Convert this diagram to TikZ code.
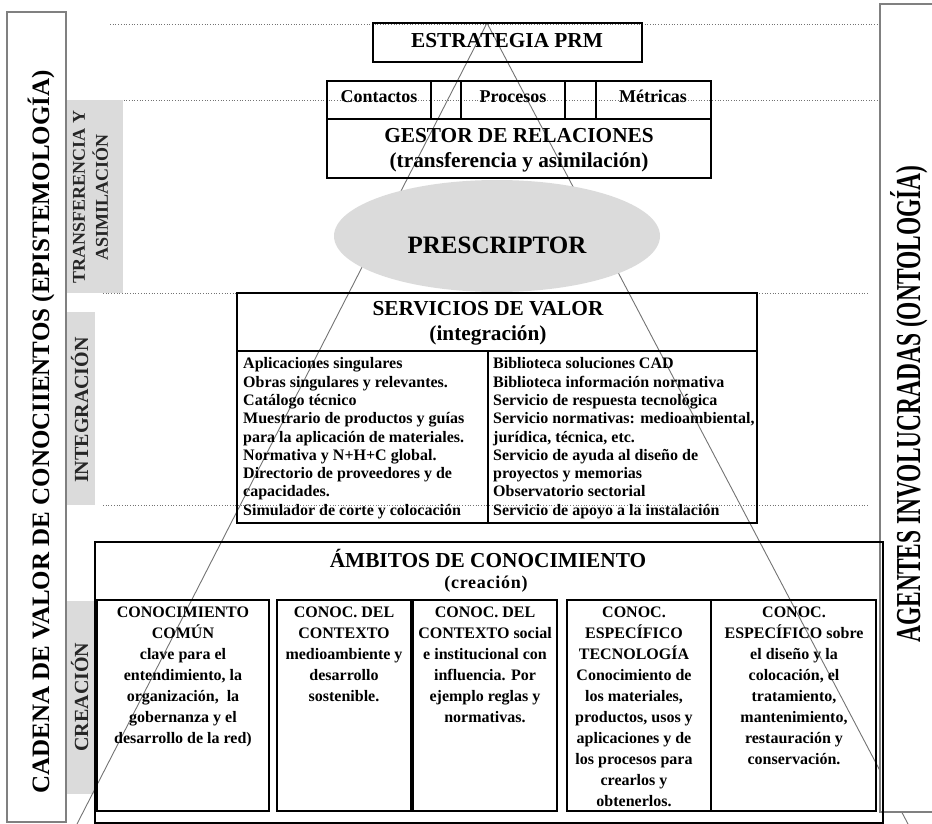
\documentclass[tikz,border=0pt]{standalone}
\usepackage{fontspec}
\setmainfont{Liberation Serif}
\newfontfamily\spacedserif[LetterSpace=4]{Liberation Serif}
\usetikzlibrary{shapes.geometric}
\begin{document}
\begin{tikzpicture}[x=1pt,y=-1pt,
  frame/.style={draw=black!50, line width=1.3pt, fill=white},
  band/.style={fill=black!14},
  guide/.style={draw=black!55, dotted, line width=0.7pt},
  cone/.style={draw=black!55, line width=0.9pt},
  box/.style={draw, line width=1.4pt},
  big/.style={font=\fontsize{21.3}{25}\selectfont\bfseries, inner sep=0pt, align=center},
  mid/.style={font=\fontsize{18}{23}\selectfont\bfseries, inner sep=0pt, align=center},
  small/.style={font=\fontsize{16}{21}\selectfont\bfseries, inner sep=0pt, align=center, anchor=north},
  list/.style={font=\fontsize{16}{18.3}\selectfont\bfseries, inner sep=0pt, align=left, anchor=north west},
  vert/.style={rotate=90, inner sep=0pt, align=center, text=black!85}]

\useasboundingbox (0,0) rectangle (932,824);

\draw[guide] (110,24) -- (877,24);
\draw[guide] (110,100) -- (877,100);
\draw[guide] (103,293) -- (868,293);
\draw[guide] (103,505) -- (868,505);

\fill[band] (67,100) rectangle (123,293);
\fill[band] (67,312) rectangle (95,505);
\fill[band] (67,601) rectangle (95,794);

\coordinate (apex) at (487,23);
\coordinate (footL) at (77,824);
\coordinate (footR) at (908,824);
\draw[cone] (footL) -- (apex) -- (footR);

\draw[frame] (7,12) rectangle (66,822);
\draw[frame] (880,4) rectangle (945,812);

\node[ellipse, fill=black!14, minimum width=326pt, minimum height=112pt, inner sep=0pt] (presc) at (497,236) {};
\node[font=\fontsize{25}{25}\selectfont\bfseries, inner sep=0pt, anchor=base] (presct) at (497,253) {PRESCRIPTOR};

\draw[box] (373,23) rectangle (642,62);
\node[big, anchor=base] (strat) at (507,48) {ESTRATEGIA PRM};

\draw[box] (327,81) rectangle (711,178);
\draw[box] (327,119) -- (711,119);
\foreach \xc in {431,461,565,596} \draw[box] (\xc,81) -- (\xc,119);
\node[mid, anchor=base] (cont) at (379,103) {Contactos};
\node[mid, anchor=base] (proc) at (513,103) {Procesos};
\node[mid, anchor=base] (metr) at (653,103) {Métricas};
\node[big, anchor=north] (gestor) at (519,128.5) {GESTOR DE RELACIONES\\(transferencia y asimilación)};

\draw[box] (237,293) rectangle (757,523);
\draw[box] (237,351) -- (757,351);
\draw[box] (488,351) -- (488,523);
\node[big, anchor=north] (serv) at (488,301.5) {SERVICIOS DE VALOR\\(integración)};
\node[list] (servL) at (243,357.5) {Aplicaciones singulares\\Obras singulares y relevantes.\\Catálogo técnico\\Muestrario de productos y guías\\para la aplicación de materiales.\\Normativa y N+H+C global.\\Directorio de proveedores y de\\capacidades.\\Simulador de corte y colocación};
\node[list] (servR) at (493,357.5) {Biblioteca soluciones CAD\\Biblioteca información normativa\\Servicio de respuesta tecnológica\\Servicio normativas: medioambiental,\\jurídica, técnica, etc.\\Servicio de ayuda al diseño de\\proyectos y memorias\\Observatorio sectorial\\Servicio de apoyo a la instalación};

\draw[box] (95,542) rectangle (883,823);
\node[big, anchor=base] (amb) at (488,567) {ÁMBITOS DE CONOCIMIENTO};
\node[font=\fontsize{18}{18}\selectfont\spacedserif\bfseries, inner sep=0pt, anchor=base] (ambsub) at (486,588) {(creación)};

\draw[box] (97,600) rectangle (269,811);
\draw[box] (277,600) rectangle (411,811);
\draw[box] (413,600) rectangle (557,811);
\draw[box] (567,600) rectangle (711,811);
\draw[box] (711,600) rectangle (876,811);
\node[small] (comun) at (183,606.6) {CONOCIMIENTO\\COMÚN\\clave para el\\entendimiento, la\\organización,\ \ la\\gobernanza y el\\desarrollo de la red)};
\node[small] (medio) at (344,606.6) {CONOC. DEL\\CONTEXTO\\medioambiente y\\desarrollo\\sostenible.};
\node[small] (social) at (485,606.6) {CONOC. DEL\\CONTEXTO social\\e institucional con\\influencia. Por\\ejemplo reglas y\\normativas.};
\node[small] (tecno) at (634,606.6) {CONOC.\\ESPECÍFICO\\TECNOLOGÍA\\Conocimiento de\\los materiales,\\productos, usos y\\aplicaciones y de\\los procesos para\\crearlos y\\obtenerlos.};
\node[small] (diseno) at (794,606.6) {CONOC.\\ESPECÍFICO sobre\\el diseño y la\\colocación, el\\tratamiento,\\mantenimiento,\\restauración y\\conservación.};

\node[vert, mid] (transf) at (90.5,197) {TRANSFERENCIA Y\\ASIMILACIÓN};
\node[vert, font=\fontsize{20}{20}\selectfont\bfseries, anchor=base] (integ) at (88,410) {INTEGRACIÓN};
\node[vert, font=\fontsize{20}{20}\selectfont\bfseries, anchor=base] (creac) at (88,697) {CREACIÓN};

\node[vert, text=black, font=\fontsize{25}{25}\selectfont\bfseries, anchor=base] (cadena) at (49,432) {CADENA DE VALOR DE CONOCIIENTOS (EPISTEMOLOGÍA)};
\node[vert, text=black, font=\fontsize{35}{35}\selectfont\bfseries, anchor=base] (agentes) at (920,404) {\scalebox{0.67}[1]{AGENTES INVOLUCRADAS (ONTOLOGÍA)}};
\end{tikzpicture}
\end{document}
